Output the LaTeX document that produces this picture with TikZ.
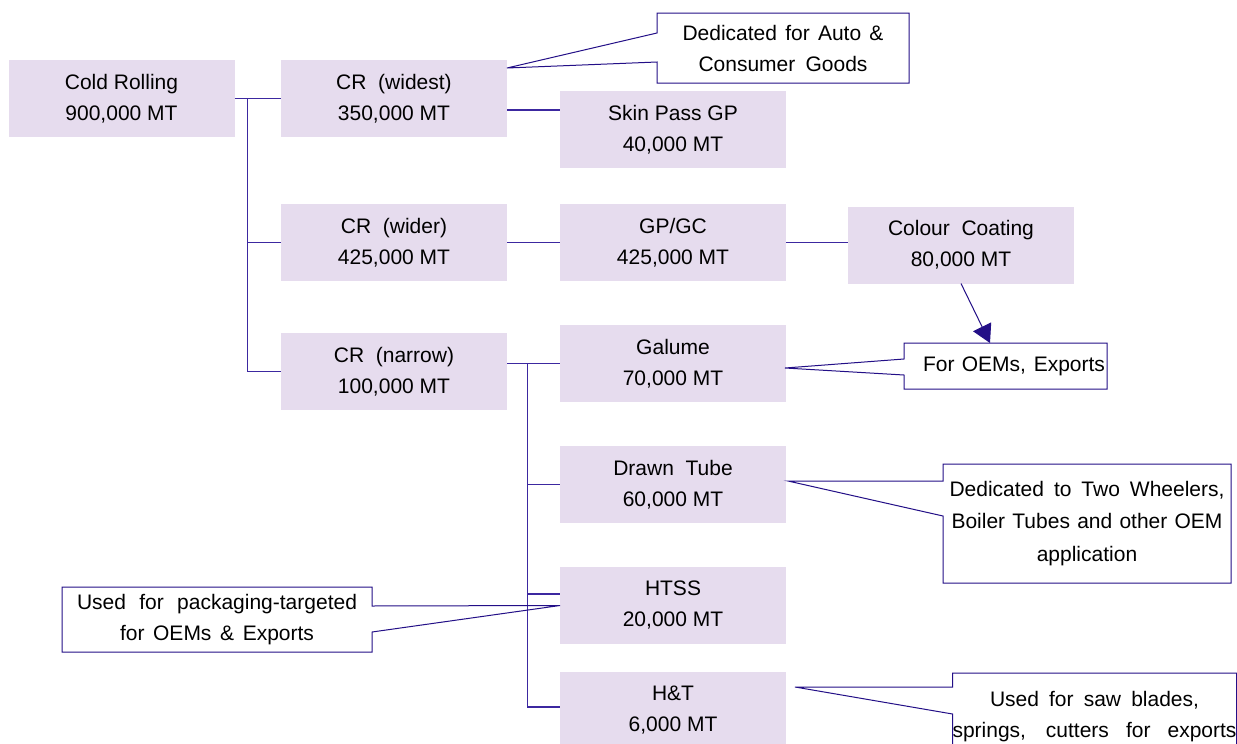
\documentclass[tikz,border=0pt]{standalone}
\usepackage{fontspec}
\setmainfont{Liberation Sans}
\usetikzlibrary{arrows.meta,calc}
\definecolor{boxfill}{RGB}{230,220,238}
\definecolor{linec}{RGB}{60,40,160}
\definecolor{navyc}{RGB}{35,15,135}
\tikzset{
  pbox/.style={fill=boxfill, minimum width=226pt, minimum height=77pt, inner sep=0pt, outer sep=0pt, align=center, font=\fontsize{21}{31}\selectfont},
  conn/.style={draw=linec, line width=1.1pt},
  calltext/.style={inner sep=0pt, outer sep=0pt, align=center},
  callline/.style={draw=navyc, line width=1pt, line join=miter},
}
\begin{document}
\begin{tikzpicture}[x=1pt,y=-1pt]
\useasboundingbox (0,0) rectangle (1237,744);
\fill[white] (0,0) rectangle (1237,744);
\clip (0,0) rectangle (1237,744);

% process boxes
\node[pbox] (cold)   at (121.5,98.5) {Cold Rolling\\900,000 MT};
\node[pbox] (crw)    at (394,98.5)   {CR\ \ (widest)\\350,000 MT};
\node[pbox] (skin)   at (673,129.5)  {Skin Pass GP\\40,000 MT};
\node[pbox] (crwr)   at (394,242.5)  {CR\ \ (wider)\\425,000 MT};
\node[pbox] (gpgc)   at (673,242.5)  {GP/GC\\425,000 MT};
\node[pbox] (colour) at (961,245)    {Colour\ \ Coating\\80,000 MT};
\node[pbox] (crn)    at (394,371.5)  {CR\ \ (narrow)\\100,000 MT};
\node[pbox] (galume) at (673,363.5)  {Galume\\70,000 MT};
\node[pbox] (drawn)  at (673,484.5)  {Drawn\ \ Tube\\60,000 MT};
\node[pbox] (htss)   at (673,605.5)  {HTSS\\20,000 MT};
\node[pbox] (ht)     at (673,710.5)  {H\&T\\6,000 MT};

% connectors
\draw[conn] (cold.east) -- (crw.west);
\coordinate (t1) at ($(cold.east)!0.28!(crw.west)$);
\draw[conn] (t1) |- (crwr.west);
\draw[conn] (t1) |- (crn.west);
\path ([yshift=-11.5pt]crw.east) coordinate (a1);
\draw[conn] (a1) -- (a1 -| skin.west);
\draw[conn] (crwr.east) -- (gpgc.west);
\draw[conn] (gpgc.east) -- (gpgc.east -| colour.west);
\coordinate (g0) at (galume.west -| crn.east);
\draw[conn] (g0) -- (galume.west);
\coordinate (t2) at ($(g0)!0.39!(galume.west)$);
\draw[conn] (t2) |- (drawn.west);
\draw[conn] (t2) |- ([yshift=11.5pt]htss.west);
\draw[conn] (t2) |- ([yshift=3.5pt]ht.west);

% callouts
\node[calltext, minimum width=252pt, minimum height=70pt, font=\fontsize{21}{31}\selectfont] (c1) at (783,48)
  {\makebox[201pt][s]{Dedicated for Auto \&}\\\makebox[169pt][s]{Consumer Goods}};
\path ([yshift=30.5pt]crw.east) coordinate (tip1);
\draw[callline] (c1.north west) -- (c1.north east) -- (c1.south east) -- (c1.south west)
  -- ([yshift=21pt]c1.south west) -- (tip1) -- ([yshift=-20pt]c1.north west) -- cycle;

\node[calltext, minimum width=203pt, minimum height=46pt, font=\fontsize{21}{31}\selectfont] (c2) at (1005.5,366)
  {\hspace*{17pt}\makebox[182pt][s]{For OEMs, Exports}};
\path ([xshift=-1pt,yshift=-4.5pt]galume.east) coordinate (tip2);
\draw[callline] (c2.north west) -- (c2.north east) -- (c2.south east) -- (c2.south west)
  -- ([yshift=14pt]c2.south west) -- (tip2) -- ([yshift=-16pt]c2.north west) -- cycle;

\node[calltext, minimum width=288pt, minimum height=119pt, font=\fontsize{21}{32.5}\selectfont] (c3) at (1087,523.5)
  {\makebox[275pt][s]{Dedicated to Two Wheelers,}\\\makebox[271pt][s]{Boiler Tubes and other OEM}\\application};
\path ([xshift=2pt,yshift=3.5pt]drawn.east) coordinate (tip3);
\draw[callline] (c3.north west) -- (c3.north east) -- (c3.south east) -- (c3.south west)
  -- ([yshift=67pt]c3.south west) -- (tip3) -- ([yshift=-17pt]c3.north west) -- cycle;

\node[calltext, minimum width=310pt, minimum height=65pt, font=\fontsize{21}{31}\selectfont] (c4) at (217,619.5)
  {\makebox[280pt][s]{Used for packaging-targeted}\\\makebox[194pt][s]{for OEMs \& Exports}};
\draw[callline] (c4.north west) -- (c4.north east) -- ([yshift=-19pt]c4.north east) -- (htss.west)
  -- ([yshift=20pt]c4.south east) -- (c4.south east) -- (c4.south west) -- cycle;

\node[calltext, anchor=north, minimum width=283pt, minimum height=88pt, font=\fontsize{21}{31}\selectfont] (c5) at (1094.5,673)
  {\makebox[209pt][s]{Used for saw blades,}\\\makebox[284pt][s]{springs, cutters for exports}};
\path ([xshift=9pt,yshift=23.5pt]ht.east) coordinate (tip5);
\draw[callline] (c5.south east) -- (c5.north east) -- (c5.north west) -- ([yshift=-14pt]c5.north west)
  -- (tip5) -- ([yshift=-41pt]c5.north west) -- (c5.south west);

% arrow from Colour Coating to callout
\draw[callline, -{Triangle[length=18pt,width=20pt]}] (colour.south) -- ([xshift=-15.5pt]c2.north);
\end{tikzpicture}
\end{document}
